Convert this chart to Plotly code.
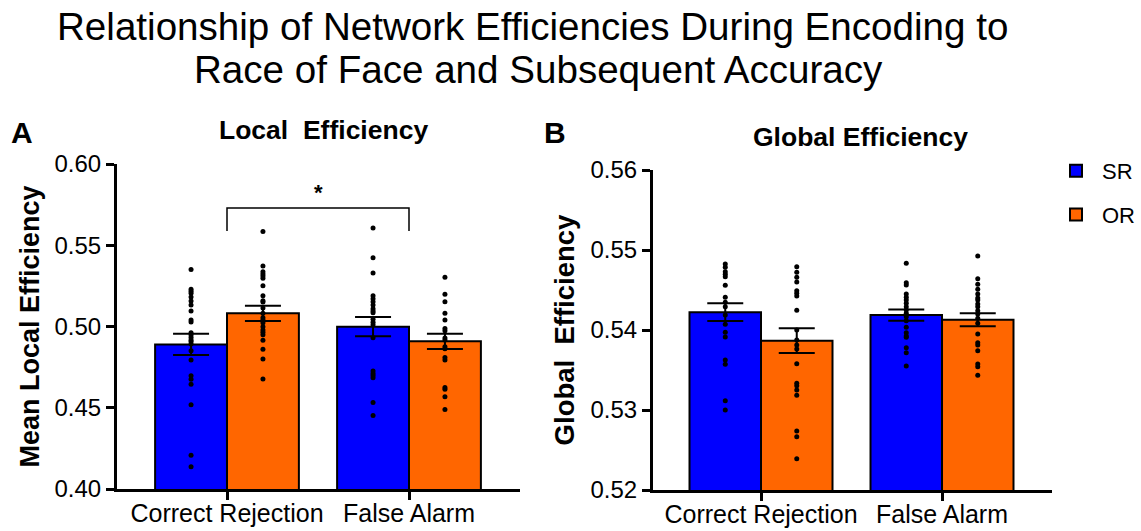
import plotly.graph_objects as go

# ---------------- data ----------------
categories = ["Correct Rejection", "False Alarm"]
groups = ["SR", "OR"]

local_sr_mean = [0.4890, 0.4999]
local_or_mean = [0.5081, 0.4909]
local_sr_sem = [0.0066, 0.0059]
local_or_sem = [0.0047, 0.0047]

local_sr_cr_pts = [0.5350, 0.5229, 0.5217, 0.5204, 0.5182, 0.5157, 0.5132, 0.5095, 0.5040, 0.5028,
                   0.4962, 0.4948, 0.4933, 0.4917, 0.4907, 0.4892, 0.4851, 0.4794, 0.4697, 0.4675,
                   0.4644, 0.4519, 0.4207, 0.4137]
local_or_cr_pts = [0.5584, 0.5372, 0.5337, 0.5323, 0.5311, 0.5297, 0.5251, 0.5190, 0.5159, 0.5151,
                   0.5114, 0.5081, 0.5054, 0.5040, 0.5023, 0.4999, 0.4978, 0.4964, 0.4950, 0.4915,
                   0.4860, 0.4800, 0.4677]
local_sr_fa_pts = [0.5606, 0.5423, 0.5329, 0.5190, 0.5171, 0.5153, 0.5132, 0.5110, 0.5095, 0.5085,
                   0.5044, 0.5026, 0.5011, 0.4931, 0.4726, 0.4711, 0.4699, 0.4685, 0.4533, 0.4453]
local_or_fa_pts = [0.5303, 0.5198, 0.5153, 0.5081, 0.5040, 0.4987, 0.4974, 0.4929, 0.4917, 0.4876,
                   0.4863, 0.4810, 0.4794, 0.4624, 0.4614, 0.4568, 0.4490]

global_sr_mean = [0.54223, 0.54186]
global_or_mean = [0.53867, 0.54128]
global_sr_sem = [0.00110, 0.00069]
global_or_sem = [0.00154, 0.00082]

global_sr_cr_pts = [0.54825, 0.54783, 0.54729, 0.54696, 0.54667, 0.54558, 0.54408, 0.54346, 0.54292,
                    0.54188, 0.54071, 0.53971, 0.53913, 0.53625, 0.53571, 0.53117, 0.53000]
global_or_cr_pts = [0.54792, 0.54721, 0.54658, 0.54600, 0.54492, 0.54458, 0.54425, 0.54246, 0.54000,
                    0.53875, 0.53813, 0.53763, 0.53579, 0.53333, 0.53304, 0.53250, 0.53183, 0.52738,
                    0.52667, 0.52392]
global_sr_fa_pts = [0.54833, 0.54592, 0.54563, 0.54450, 0.54408, 0.54375, 0.54333, 0.54292, 0.54250,
                    0.54208, 0.54167, 0.54117, 0.54033, 0.53967, 0.53925, 0.53908, 0.53779, 0.53717,
                    0.53550]
global_or_fa_pts = [0.54925, 0.54642, 0.54571, 0.54508, 0.54450, 0.54400, 0.54375, 0.54325, 0.54292,
                    0.54242, 0.54200, 0.54146, 0.54083, 0.53950, 0.53842, 0.53813, 0.53742, 0.53575,
                    0.53542, 0.53433]

# significance bracket (local panel, between the two categories)
sig_pair = [0, 1]
sig_top = 0.5729
sig_bottom = 0.5588
sig_star_y = 0.5822

# ---------------- style ----------------
COLORS = {"SR": "#0000FF", "OR": "#FF6600"}
BAR_W = 0.395
FONT = "Liberation Sans, Arial, sans-serif"
W, H = 1141, 531

fig = go.Figure()

panels = [
    ("x", "y", local_sr_mean, local_or_mean, local_sr_sem, local_or_sem,
     [local_sr_cr_pts, local_sr_fa_pts], [local_or_cr_pts, local_or_fa_pts], True),
    ("x2", "y2", global_sr_mean, global_or_mean, global_sr_sem, global_or_sem,
     [global_sr_cr_pts, global_sr_fa_pts], [global_or_cr_pts, global_or_fa_pts], False),
]

for xa, ya, sr_m, or_m, sr_s, or_s, sr_pts, or_pts, show in panels:
    for g, means, sems, pts, sign in [("SR", sr_m, sr_s, sr_pts, -1), ("OR", or_m, or_s, or_pts, 1)]:
        xs = [i + sign * BAR_W / 2 for i in range(len(categories))]
        fig.add_trace(go.Bar(
            x=xs, y=means, width=BAR_W, name=g, legendgroup=g, showlegend=show,
            marker=dict(color=COLORS[g], line=dict(color="black", width=2)),
            error_y=dict(type="data", array=sems, visible=True, color="black",
                         thickness=2, width=18),
            xaxis=xa, yaxis=ya,
        ))
        for i, p in enumerate(pts):
            fig.add_trace(go.Scatter(
                x=[xs[i]] * len(p), y=p, mode="markers",
                marker=dict(color="black", size=5), showlegend=False,
                hoverinfo="y", xaxis=xa, yaxis=ya,
            ))

axis_common = dict(showline=True, linewidth=3, linecolor="black", ticks="outside",
                   ticklen=8, tickwidth=3, tickcolor="black", showgrid=False,
                   zeroline=False, automargin=False)
yfont = dict(family=FONT, size=24, color="black")
xfont = dict(family=FONT, size=25, color="black")

fig.update_layout(
    width=W, height=H,
    margin=dict(l=0, r=0, t=0, b=0, autoexpand=False),
    paper_bgcolor="white", plot_bgcolor="white",
    barmode="overlay",
    font=dict(family=FONT, color="black"),
    xaxis=dict(domain=[117 / W, 520 / W], range=[-0.6044, 1.6099],
               tickvals=[0, 1], ticktext=categories, anchor="y",
               tickfont=xfont, ticklabelstandoff=-8, **axis_common),
    yaxis=dict(domain=[1 - 489 / H, 1 - 164 / H], range=[0.40, 0.60], dtick=0.05,
               tickformat=".2f", anchor="x", tickfont=yfont,
               title=dict(text="<b>Mean Local Efficiency</b>", standoff=8,
                          font=dict(family=FONT, size=27, color="black")),
               **axis_common),
    xaxis2=dict(domain=[653 / W, 1052 / W], range=[-0.5967, 1.6077],
                tickvals=[0, 1], ticktext=categories, anchor="y2",
                tickfont=xfont, ticklabelstandoff=-8, **axis_common),
    yaxis2=dict(domain=[1 - 490 / H, 1 - 170 / H], range=[0.52, 0.56], dtick=0.01,
                tickformat=".2f", anchor="x2", tickfont=yfont,
                title=dict(text="<b>Global  Efficiency</b>", standoff=8,
                           font=dict(family=FONT, size=27.5, color="black")),
                **axis_common),
    legend=dict(x=1050 / W, y=1 - 150 / H, xanchor="left", yanchor="top",
                font=dict(family=FONT, size=22, color="black"), itemwidth=42,
                tracegroupgap=12, bgcolor="rgba(0,0,0,0)"),
    showlegend=True,
)

# significance bracket
fig.add_shape(type="path", xref="x", yref="y",
              path=f"M {sig_pair[0]},{sig_bottom} L {sig_pair[0]},{sig_top} "
                   f"L {sig_pair[1]},{sig_top} L {sig_pair[1]},{sig_bottom}",
              line=dict(color="black", width=1.5))
fig.add_annotation(x=(sig_pair[0] + sig_pair[1]) / 2, y=sig_star_y, xref="x", yref="y",
                   text="<b>*</b>", showarrow=False, xanchor="center", yanchor="middle",
                   font=dict(family=FONT, size=22, color="black"))


def label(text, px, py, size):
    fig.add_annotation(x=px / W, y=1 - py / H, xref="paper", yref="paper",
                       text=text, showarrow=False, xanchor="center", yanchor="middle",
                       font=dict(family=FONT, size=size, color="black"))


# titles
label("Relationship of Network Efficiencies During Encoding to", 532, 27, 38.6)
label("Race of Face and Subsequent Accuracy", 538, 69, 38.6)
label("<b>Local  Efficiency</b>", 323, 130, 26.5)
label("<b>Global Efficiency</b>", 860, 137, 26.5)
label("<b>A</b>", 22, 132, 30)
label("<b>B</b>", 555, 133, 30)

fig.write_html("out.html")
